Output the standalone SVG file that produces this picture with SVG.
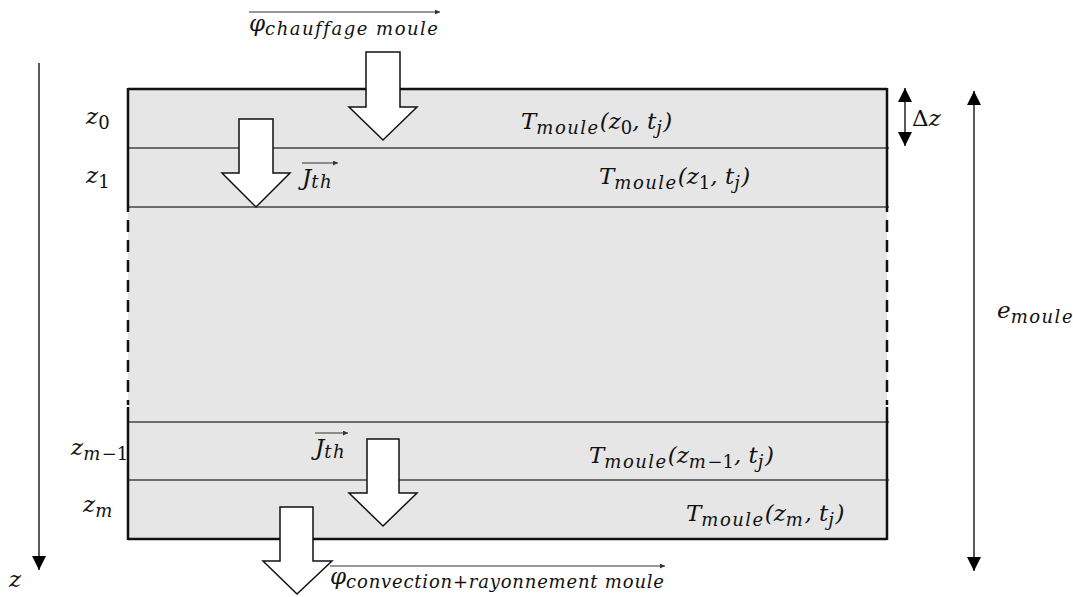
<svg xmlns="http://www.w3.org/2000/svg" width="1073" height="597" viewBox="0 0 1073 597">
<style>
.m{font-family:"DejaVu Serif","Liberation Serif",serif;font-style:italic;font-size:23px;fill:#111}
.s{font-size:18px;letter-spacing:1.5px}
.sc{font-size:18px;letter-spacing:0.8px}
.u{font-style:normal;letter-spacing:0}
.blk{fill:#fff;stroke:#111;stroke-width:1.5;stroke-linejoin:miter}
.edge{stroke:#111;stroke-width:2.5;fill:none}
.inner{stroke:#444;stroke-width:1.5;fill:none}
.dash{stroke:#111;stroke-width:2.5;fill:none;stroke-dasharray:12 8}
.ax{stroke:#222;stroke-width:1.5;fill:none}
.ov{stroke:#333;stroke-width:1.2;fill:none}
</style>
<defs>
<marker id="ah" viewBox="0 0 10 10" refX="10" refY="5" markerWidth="14" markerHeight="15" markerUnits="userSpaceOnUse" orient="auto-start-reverse"><path d="M0,0 L10,5 L0,10 z" fill="#000"/></marker>
<marker id="sa" viewBox="0 0 10 10" refX="10" refY="5" markerWidth="6" markerHeight="5" markerUnits="userSpaceOnUse" orient="auto"><path d="M0,0 L10,5 L0,10 z" fill="#333"/></marker>
</defs>
<rect width="1073" height="597" fill="#fff"/>

<g id="mould">
<rect x="128" y="89" width="759" height="450" fill="#e6e6e6"/>
<path class="inner" d="M128,148 H889 M128,207 H889 M128,422 H889 M128,480 H889"/>
<path class="edge" d="M128,89 H887 M128,539 H887 M128,88 V212 M128,407 V540 M887,88 V212 M887,407 V540"/>
<path class="dash" d="M128,220 V405 M887,220 V405"/>
</g>

<g id="row-z0">
<text class="m" x="86" y="124">z<tspan class="s u" dy="5">0</tspan></text>
<text class="m" x="521" y="129">T<tspan class="s" dy="5">moule</tspan><tspan dy="-5">(z</tspan><tspan class="s u" dy="5">0</tspan><tspan dy="-5">, t</tspan><tspan class="s" dy="5">j</tspan><tspan dy="-5">)</tspan></text>
</g>
<g id="row-z1">
<text class="m" x="86" y="183">z<tspan class="s u" dy="5">1</tspan></text>
<text class="m" x="599" y="184">T<tspan class="s" dy="5">moule</tspan><tspan dy="-5">(z</tspan><tspan class="s u" dy="5">1</tspan><tspan dy="-5">, t</tspan><tspan class="s" dy="5">j</tspan><tspan dy="-5">)</tspan></text>
</g>
<g id="row-zm1">
<text class="m" x="71" y="455">z<tspan class="s" dy="5">m</tspan><tspan class="s u">−1</tspan></text>
<text class="m" x="589" y="463">T<tspan class="s" dy="5">moule</tspan><tspan dy="-5">(z</tspan><tspan class="s" dy="5">m</tspan><tspan class="s u">−1</tspan><tspan dy="-5">, t</tspan><tspan class="s" dy="5">j</tspan><tspan dy="-5">)</tspan></text>
</g>
<g id="row-zm">
<text class="m" x="83" y="512">z<tspan class="s" dy="5">m</tspan></text>
<text class="m" x="686" y="521">T<tspan class="s" dy="5">moule</tspan><tspan dy="-5">(z</tspan><tspan class="s" dy="5">m</tspan><tspan dy="-5">, t</tspan><tspan class="s" dy="5">j</tspan><tspan dy="-5">)</tspan></text>
</g>

<g id="flux-heating">
<polygon class="blk" points="366,52 400,52 400,107 417,107 383,140 349,107 366,107"/>
<line class="ov" x1="249" y1="12" x2="440" y2="12" marker-end="url(#sa)"/>
<text class="m" x="249" y="31">φ<tspan class="s" dy="4">chauffage moule</tspan></text>
</g>
<g id="flux-jth-top">
<polygon class="blk" points="239,119 273,119 273,173 290,173 256,207 222,173 239,173"/>
<line class="ov" x1="302" y1="163" x2="338" y2="163" marker-end="url(#sa)"/>
<text class="m" x="302" y="185">J<tspan class="s" dy="3">th</tspan></text>
</g>
<g id="flux-jth-bottom">
<polygon class="blk" points="367,439 399,439 399,493 417,493 383,526 349,493 367,493"/>
<line class="ov" x1="315" y1="433" x2="348" y2="433" marker-end="url(#sa)"/>
<text class="m" x="315" y="455">J<tspan class="s" dy="3">th</tspan></text>
</g>
<g id="flux-out">
<polygon class="blk" points="280,507 313,507 313,561 332,561 297,594 263,561 280,561"/>
<line class="ov" x1="330" y1="566" x2="665" y2="566" marker-end="url(#sa)"/>
<text class="m" x="330" y="584">φ<tspan class="sc" dy="4">convection+rayonnement moule</tspan></text>
</g>

<g id="connectors">
<line class="ax" x1="39" y1="63" x2="39" y2="570" marker-end="url(#ah)"/>
<line class="ax" x1="905" y1="88" x2="905" y2="146" marker-start="url(#ah)" marker-end="url(#ah)"/>
<line class="ax" x1="974" y1="91" x2="974" y2="571" marker-start="url(#ah)" marker-end="url(#ah)"/>
</g>
<g id="labels-axes">
<text class="m" x="9" y="587">z</text>
<text class="m" x="912" y="126"><tspan class="u">Δ</tspan>z</text>
<text class="m" x="997" y="318">e<tspan class="s" dy="5">moule</tspan></text>
</g>
</svg>
